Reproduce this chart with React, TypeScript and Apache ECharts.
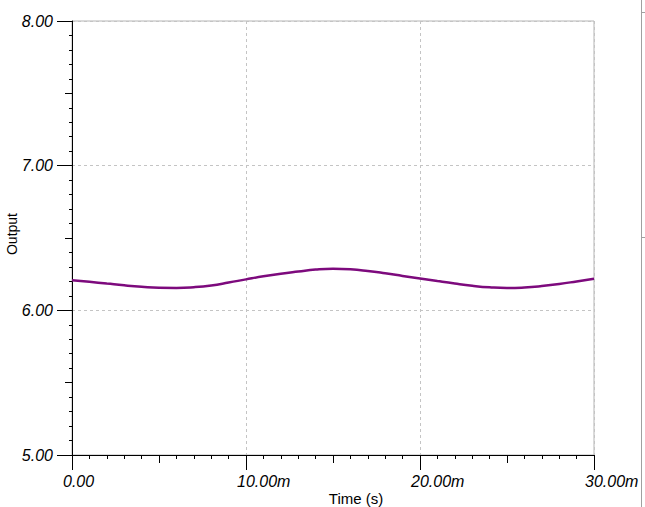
import React, { useEffect, useRef } from "react";
import * as echarts from "echarts";

// time in ms (labels shown with "m" suffix)
const timeMs = [0, 1, 2, 3, 4, 5, 6, 7, 8, 9, 10, 11, 12, 13, 14, 15, 16, 17, 18, 19, 20, 21, 22, 23, 24, 25, 26, 27, 28, 29, 30];
const output = [
  6.208, 6.197, 6.185, 6.173, 6.163, 6.156, 6.155, 6.160, 6.172, 6.192,
  6.214, 6.235, 6.253, 6.268, 6.282, 6.288, 6.284, 6.272, 6.256, 6.238,
  6.220, 6.202, 6.185, 6.170, 6.159, 6.154, 6.158, 6.168, 6.182, 6.200,
  6.219,
];
const yTicks = [5, 6, 7, 8];
const xTicks = [0, 10, 20, 30];

const FONT = "'Liberation Sans', Arial, sans-serif";

export default function App() {
  const ref = useRef<HTMLDivElement>(null);
  useEffect(() => {
    if (!ref.current) return;
    const chart = echarts.init(ref.current, null, { renderer: "svg" });
    const data = timeMs.map((t, i) => [t, output[i]]);
    chart.setOption({
      animation: false,
      backgroundColor: "#ffffff",
      grid: { left: 72, right: 51, top: 21, bottom: 52, show: true, borderColor: "#b4b4b4", borderWidth: 1, backgroundColor: "transparent" },
      xAxis: [
        {
          type: "value",
          min: xTicks[0],
          max: xTicks[xTicks.length - 1],
          interval: 10,
          axisLine: { show: true, onZero: false, lineStyle: { color: "#000", width: 1 } },
          axisTick: { show: true, length: 15, lineStyle: { color: "#000", width: 1 } },
          minorTick: { show: true, splitNumber: 10, length: 4, lineStyle: { color: "#000", width: 1 } },
          splitLine: { show: true, lineStyle: { color: "#c4c4c4", type: [3, 3], width: 1 } },
          axisLabel: {
            margin: 18,
            align: "left",
            padding: [0, 0, 0, -9],
            color: "#000",
            fontFamily: FONT,
            fontStyle: "italic",
            fontSize: 16,
            formatter: (v: number) => (v === 0 ? "0.00" : v.toFixed(2) + "m"),
          },
        },
        {
          type: "value",
          position: "bottom",
          min: xTicks[0],
          max: xTicks[xTicks.length - 1],
          interval: 5,
          axisLine: { show: false },
          axisTick: { show: true, length: 8, lineStyle: { color: "#000", width: 1 } },
          splitLine: { show: false },
          axisLabel: { show: false },
        },
      ],
      yAxis: [
        {
          type: "value",
          min: yTicks[0],
          max: yTicks[yTicks.length - 1],
          interval: 1,
          axisLine: { show: true, onZero: false, lineStyle: { color: "#000", width: 1 } },
          axisTick: { show: true, length: 15, lineStyle: { color: "#000", width: 1 } },
          minorTick: { show: true, splitNumber: 10, length: 3, lineStyle: { color: "#000", width: 1 } },
          splitLine: { show: true, lineStyle: { color: "#c4c4c4", type: [3, 3], width: 1 } },
          axisLabel: {
            margin: 19,
            color: "#000",
            fontFamily: FONT,
            fontStyle: "italic",
            fontSize: 16,
            formatter: (v: number) => v.toFixed(2),
          },
        },
        {
          type: "value",
          position: "left",
          min: yTicks[0],
          max: yTicks[yTicks.length - 1],
          interval: 0.5,
          axisLine: { show: false },
          axisTick: { show: true, length: 7, lineStyle: { color: "#000", width: 1 } },
          splitLine: { show: false },
          axisLabel: { show: false },
        },
      ],
      graphic: [
        {
          type: "text",
          x: 356,
          y: 506,
          style: { text: "Time (s)", fontFamily: FONT, fontSize: 15, fill: "#000", align: "center", verticalAlign: "bottom" },
        },
        {
          type: "text",
          x: 12,
          y: 234,
          rotation: Math.PI / 2,
          style: { text: "Output", fontFamily: FONT, fontSize: 14, fill: "#000", align: "center", verticalAlign: "middle" },
        },
        { type: "line", shape: { x1: 641.5, y1: 0, x2: 641.5, y2: 507 }, style: { stroke: "#a0a0a0", lineWidth: 1 } },
        { type: "line", shape: { x1: 641.5, y1: 12.5, x2: 645, y2: 12.5 }, style: { stroke: "#a0a0a0", lineWidth: 1 } },
        { type: "line", shape: { x1: 641.5, y1: 237.5, x2: 645, y2: 237.5 }, style: { stroke: "#a0a0a0", lineWidth: 1 } },
      ],
      series: [
        {
          type: "line",
          xAxisIndex: 0,
          yAxisIndex: 0,
          data,
          smooth: true,
          showSymbol: false,
          lineStyle: { color: "#7d0a7d", width: 2.5 },
        },
      ],
    });
    return () => chart.dispose();
  }, []);
  return <div ref={ref} style={{ position: "fixed", left: 0, top: 0, width: 645, height: 507 }} />;
}
